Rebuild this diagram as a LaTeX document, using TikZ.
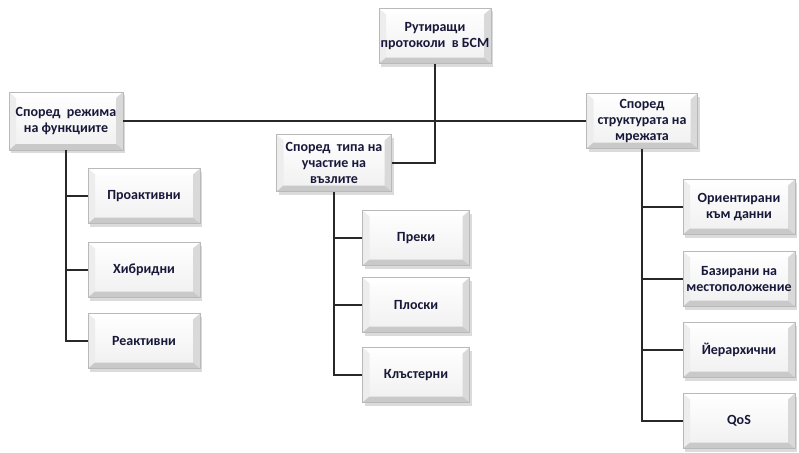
\documentclass[tikz,border=0pt]{standalone}
\usepackage{fontspec}
\setmainfont{Carlito}
\usetikzlibrary{shadows}
\definecolor{txt}{RGB}{24,24,58}
\definecolor{wire}{RGB}{40,40,40}
\tikzset{
  bevel/.style={
    draw=gray!55, line width=0.6pt,
    minimum width=112pt, minimum height=55pt,
    inner sep=1pt, align=center, text=txt,
    font=\fontsize{14}{16}\selectfont\bfseries,
    top color=white, bottom color=gray!12,
    drop shadow={shadow xshift=2pt, shadow yshift=-3pt, opacity=0.35, fill=gray!80},
    path picture={
      % top facet
      \fill[white]
        (path picture bounding box.north west) -- (path picture bounding box.north east)
        -- ([shift={(-7pt,-6pt)}]path picture bounding box.north east)
        -- ([shift={(7pt,-6pt)}]path picture bounding box.north west) -- cycle;
      % left facet
      \fill[gray!14]
        (path picture bounding box.north west) -- (path picture bounding box.south west)
        -- ([shift={(7pt,6pt)}]path picture bounding box.south west)
        -- ([shift={(7pt,-6pt)}]path picture bounding box.north west) -- cycle;
      % right facet
      \fill[gray!30]
        (path picture bounding box.north east) -- (path picture bounding box.south east)
        -- ([shift={(-7pt,6pt)}]path picture bounding box.south east)
        -- ([shift={(-7pt,-6pt)}]path picture bounding box.north east) -- cycle;
      % bottom facet
      \fill[gray!42]
        (path picture bounding box.south west) -- (path picture bounding box.south east)
        -- ([shift={(-7pt,6pt)}]path picture bounding box.south east)
        -- ([shift={(7pt,6pt)}]path picture bounding box.south west) -- cycle;
    }
  },
  link/.style={draw=wire, line width=1.4pt},
  trunk/.style={draw=wire, line width=2.2pt}
}
\begin{document}
\begin{tikzpicture}[x=1pt,y=-1pt]
\useasboundingbox (0,0) rectangle (799,452);

% root and the three grouping criteria
\node[bevel] (root) at (435,36) {Рутиращи\\протоколи~ в БСМ};
\node[bevel, minimum width=114pt, minimum height=58pt] (m1) at (66,121) {Според~ режима\\на функциите};
\node[bevel, minimum width=115pt, minimum height=57pt] (m2) at (334,163) {Според~ типа на\\участие на\\възлите};
\node[bevel, minimum width=111pt, minimum height=55pt] (m3) at (642,121) {Според\\структурата на\\мрежата};

% leaves under each criterion
\node[bevel] (a1) at (144,196) {Проактивни};
\node[bevel] (a2) at (144,270) {Хибридни};
\node[bevel] (a3) at (144,341) {Реактивни};

\node[bevel, minimum width=107pt] (b1) at (416,238) {Преки};
\node[bevel, minimum width=107pt] (b2) at (416,305) {Плоски};
\node[bevel, minimum width=107pt] (b3) at (416,375) {Клъстерни};

\node[bevel] (c1) at (739,207) {Ориентирани\\към данни};
\node[bevel] (c2) at (739,279) {Базирани на\\местоположение};
\node[bevel] (c3) at (739,350) {Йерархични};
\node[bevel] (c4) at (739,421) {QoS};

% connectors
\begin{scope}[on background layer/.try]
\draw[link] (m1.east) -- (m3.west);
\draw[trunk] (root.south) -- (root.south |- m1.east);
\draw[link] (root.south |- m1.east) -- (root.south |- m2.east) -- (m2.east);

\draw[link] (m1.south) -- (m1.south |- a3.west) -- (a3.west);
\draw[link] (m1.south |- a1.west) -- (a1.west);
\draw[link] (m1.south |- a2.west) -- (a2.west);

\draw[link] (m2.south) -- (m2.south |- b3.west) -- (b3.west);
\draw[link] (m2.south |- b1.west) -- (b1.west);
\draw[link] (m2.south |- b2.west) -- (b2.west);

\draw[link] (m3.south) -- (m3.south |- c4.west) -- (c4.west);
\draw[link] (m3.south |- c1.west) -- (c1.west);
\draw[link] (m3.south |- c2.west) -- (c2.west);
\draw[link] (m3.south |- c3.west) -- (c3.west);
\end{scope}
\end{tikzpicture}
\end{document}
